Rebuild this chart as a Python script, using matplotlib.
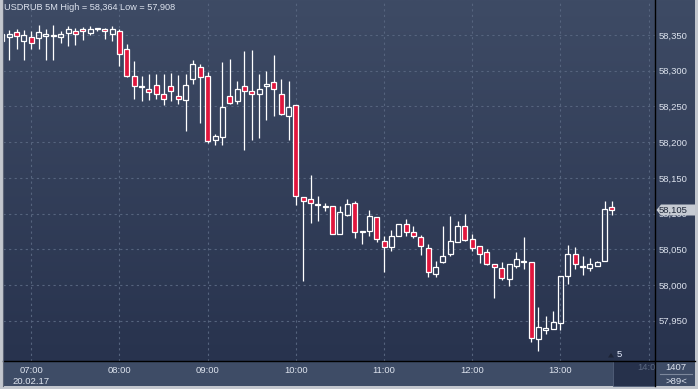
import matplotlib
matplotlib.use("Agg")
import matplotlib.pyplot as plt
import matplotlib.colors as mcolors
from matplotlib.patches import Rectangle, Polygon
from matplotlib.lines import Line2D
import numpy as np
import pandas as pd

# ---------------- data ----------------
symbol = "USDRUB"
timeframe = "5M"
start_time = "2017-02-20 06:40"
date_label = "20.02.17"
last_price_label = "58,105"
price_ticks = [57.95, 58.00, 58.05, 58.10, 58.15, 58.20, 58.25, 58.30, 58.35]

opens = [58.342, 58.347, 58.354, 58.342, 58.347, 58.346, 58.349, 58.349, 58.347, 58.353,
         58.356, 58.359, 58.353, 58.359, 58.358, 58.351, 58.356, 58.330, 58.293, 58.278,
         58.274, 58.280, 58.267, 58.278, 58.264, 58.259, 58.288, 58.305, 58.292, 58.203,
         58.207, 58.264, 58.257, 58.278, 58.272, 58.267, 58.278, 58.284, 58.268, 58.237,
         58.252, 58.123, 58.120, 58.113, 58.111, 58.110, 58.071, 58.098, 58.115, 58.075,
         58.076, 58.095, 58.061, 58.053, 58.069, 58.085, 58.074, 58.067, 58.052, 58.016,
         58.032, 58.043, 58.060, 58.083, 58.064, 58.054, 58.046, 58.029, 58.024, 58.009,
         58.027, 58.033, 58.032, 57.925, 57.937, 57.939, 57.947, 58.013, 58.044, 58.025,
         58.024, 58.027, 58.033, 58.109]
highs = [58.352, 58.357, 58.358, 58.357, 58.355, 58.364, 58.358, 58.364, 58.355, 58.363,
         58.360, 58.361, 58.362, 58.359, 58.360, 58.363, 58.358, 58.337, 58.314, 58.293,
         58.295, 58.295, 58.295, 58.297, 58.294, 58.295, 58.315, 58.309, 58.298, 58.211,
         58.312, 58.316, 58.285, 58.328, 58.329, 58.295, 58.300, 58.322, 58.288, 58.286,
         58.252, 58.123, 58.154, 58.124, 58.115, 58.110, 58.110, 58.120, 58.117, 58.075,
         58.105, 58.095, 58.068, 58.077, 58.085, 58.092, 58.083, 58.070, 58.058, 58.034,
         58.083, 58.096, 58.090, 58.099, 58.071, 58.054, 58.050, 58.029, 58.032, 58.029,
         58.046, 58.067, 58.032, 57.969, 57.956, 57.963, 58.013, 58.056, 58.053, 58.041,
         58.038, 58.034, 58.117, 58.117]
lows = [58.340, 58.315, 58.330, 58.315, 58.330, 58.330, 58.315, 58.315, 58.339, 58.334,
        58.336, 58.343, 58.350, 58.355, 58.344, 58.342, 58.307, 58.291, 58.260, 58.258,
        58.259, 58.261, 58.252, 58.257, 58.254, 58.216, 58.281, 58.227, 58.199, 58.196,
        58.196, 58.253, 58.253, 58.189, 58.203, 58.206, 58.231, 58.236, 58.238, 58.203,
        58.112, 58.006, 58.087, 58.090, 58.103, 58.071, 58.071, 58.097, 58.066, 58.058,
        58.068, 58.060, 58.018, 58.048, 58.068, 58.068, 58.066, 58.042, 58.011, 58.011,
        58.031, 58.040, 58.060, 58.062, 58.048, 58.031, 58.028, 57.982, 58.007, 57.998,
        58.024, 58.023, 57.920, 57.908, 57.931, 57.939, 57.937, 58.001, 58.023, 58.014,
        58.020, 58.026, 58.033, 58.098]
closes = [58.351, 58.351, 58.349, 58.350, 58.339, 58.354, 58.351, 58.350, 58.351, 58.358,
          58.351, 58.355, 58.358, 58.359, 58.355, 58.358, 58.323, 58.292, 58.278, 58.278,
          58.270, 58.268, 58.261, 58.271, 58.260, 58.280, 58.309, 58.291, 58.201, 58.208,
          58.249, 58.255, 58.274, 58.271, 58.268, 58.275, 58.281, 58.274, 58.239, 58.249,
          58.124, 58.118, 58.115, 58.113, 58.109, 58.071, 58.102, 58.113, 58.074, 58.075,
          58.097, 58.064, 58.053, 58.068, 58.085, 58.074, 58.068, 58.054, 58.018, 58.025,
          58.040, 58.061, 58.082, 58.063, 58.052, 58.044, 58.030, 58.025, 58.010, 58.029,
          58.036, 58.033, 57.926, 57.941, 57.940, 57.948, 58.013, 58.043, 58.029, 58.026,
          58.029, 58.032, 58.107, 58.105]

# ---------------- style ----------------
W, H = 698, 389
RED = "#e1163d"
TXT = "#dde3ee"
GRID = "#56647e"
BG_TOP = "#3e4b65"
BG_BOT = "#28334e"
STRIP = "#3e4c66"
FONT = ["Liberation Sans", "DejaVu Sans"]
FS = 6.8

fig = plt.figure(figsize=(W / 100, H / 100), dpi=100)
fig.patch.set_facecolor("#c3c7ce")


def fx(px):
    return px / W


def fy(py):
    return 1 - py / H


PL, PR, PT, PB = 3, 655, 0, 361  # plot area in pixels
RIGHT_END = 695
STRIP_END = 386

# gradient background (plot + right scale)
bg = fig.add_axes([fx(PL), fy(PB), fx(RIGHT_END) - fx(PL), fy(PT) - fy(PB)])
bg.set_zorder(-2)
g = np.linspace(0, 1, 256)[:, None, None]
c0 = np.array(mcolors.to_rgb(BG_TOP))
c1 = np.array(mcolors.to_rgb(BG_BOT))
img = c0 * (1 - g) + c1 * g
bg.imshow(img, aspect="auto", extent=[0, 1, 0, 1])
bg.axis("off")

# bottom strip
fig.patches.append(Rectangle((fx(PL), fy(STRIP_END)), fx(RIGHT_END) - fx(PL), fy(PB) - fy(STRIP_END),
                             transform=fig.transFigure, facecolor=STRIP, edgecolor="none", zorder=-3))
fig.patches.append(Rectangle((fx(613), fy(STRIP_END)), fx(PR) - fx(613), fy(PB) - fy(STRIP_END),
                             transform=fig.transFigure, facecolor="#26314b", edgecolor="#53607a",
                             linewidth=0.6, zorder=-2.5))

# main axes
ax = fig.add_axes([fx(PL), fy(PB), fx(PR) - fx(PL), fy(PT) - fy(PB)])
ax.set_zorder(1)
ax.set_facecolor("none")
for s in ax.spines.values():
    s.set_visible(False)

times = pd.date_range(start_time, periods=len(opens), freq="5min")
t0 = pd.Timestamp(start_time).normalize() + pd.Timedelta(hours=7)
x = np.array((times - t0) / pd.Timedelta(minutes=5), dtype=float)

o = np.array(opens)
h = np.array(highs)
l = np.array(lows)
c = np.array(closes)
up = c >= o
top_b = np.maximum(o, c)
bot_b = np.minimum(o, c)
min_h = 0.0008
hgt = np.maximum(top_b - bot_b, min_h)
mid = (top_b + bot_b) / 2
bb = mid - hgt / 2
tb = mid + hgt / 2

# wicks (split so hollow bodies stay hollow)
ax.vlines(x, tb, h, color="white", linewidth=0.9, zorder=3)
ax.vlines(x, l, bb, color="white", linewidth=0.9, zorder=3)
face = np.where(up, "none", RED).tolist()
ax.bar(x, hgt, bottom=bb, width=0.68, color=face, edgecolor="white", linewidth=0.9, zorder=4)

ax.set_xlim(-3.85, 84.86)
ax.set_ylim(57.8936, 58.399)

hours = pd.date_range(t0, t0 + pd.Timedelta(hours=7), freq="h")
hx = np.array((hours - t0) / pd.Timedelta(minutes=5), dtype=float)
ax.set_xticks(hx)
labels = [hh.strftime("%H:%M") for hh in hours]
labels[0] = labels[0] + "\n" + date_label
labels[-1] = ""
ax.set_xticklabels(labels, fontsize=FS, color=TXT, family=FONT, linespacing=1.35)
ax.tick_params(axis="x", length=0, pad=3.5)

ax.yaxis.tick_right()
ax.set_yticks(price_ticks)
ax.set_yticklabels([f"{p:.3f}".replace(".", ",") for p in price_ticks], fontsize=FS,
                   color=TXT, family=FONT)
ax.tick_params(axis="y", length=0, pad=3)
ax.grid(True, color=GRID, linestyle=(0, (2, 3)), linewidth=0.8, zorder=1)
ax.set_axisbelow(True)

# title
title = (f"{symbol} {timeframe} High = {max(highs):.3f} Low = {min(lows):.3f}").replace(".", ",")
ax.text(0.0015, 1 - 8 / (PB - PT), title, transform=ax.transAxes,
        fontsize=6.6, color=TXT, family=FONT, ha="left", va="center")

# separators
fig.add_artist(Line2D([fx(PR), fx(PR)], [fy(PT), fy(STRIP_END)], color="black", linewidth=1.0, zorder=5))
fig.add_artist(Line2D([fx(PL), fx(RIGHT_END)], [fy(PB), fy(PB)], color="black", linewidth=1.0, zorder=5))
fig.add_artist(Line2D([fx(2.5), fx(2.5)], [fy(PT), fy(STRIP_END)], color="#5c6476", linewidth=0.8, zorder=5))

# dim 14:00 label
fig.text(fx(637), fy(368), "14:0", fontsize=FS, color="#5d6a83", family=FONT, ha="left", va="center")

# "5" marker
fig.patches.append(Polygon([[fx(608), fy(357.5)], [fx(614), fy(357.5)], [fx(611), fy(353)]], closed=True,
                           transform=fig.transFigure, facecolor="#1c2335", edgecolor="none", zorder=5))
fig.text(fx(617), fy(354.5), "5", fontsize=FS, color="#e8eeff", family=FONT, ha="left", va="center")

# bottom-right info
fig.text(fx(676), fy(367), "1407", fontsize=FS, color=TXT, family=FONT, ha="center", va="center")
fig.add_artist(Line2D([fx(660), fx(692)], [fy(374), fy(374)], color="#7d889c", linewidth=0.8))
fig.text(fx(676), fy(381), ">89<", fontsize=FS, color=TXT, family=FONT, ha="center", va="center")

# last price tag
ly = 58.105
ytag = PB - (ly - 57.8936) / (58.399 - 57.8936) * (PB - PT)
fig.patches.append(Polygon([[fx(656.5), fy(ytag)], [fx(661), fy(ytag - 5.5)], [fx(RIGHT_END), fy(ytag - 5.5)],
                            [fx(RIGHT_END), fy(ytag + 5.5)], [fx(661), fy(ytag + 5.5)]], closed=True,
                           transform=fig.transFigure, facecolor="#c6cbd3", edgecolor="none", zorder=6))
fig.text(fx(659), fy(ytag), last_price_label, fontsize=FS, color="#1d2638", family=FONT,
         ha="left", va="center", zorder=7)

fig.savefig("out.png", dpi=100, facecolor=fig.get_facecolor())
